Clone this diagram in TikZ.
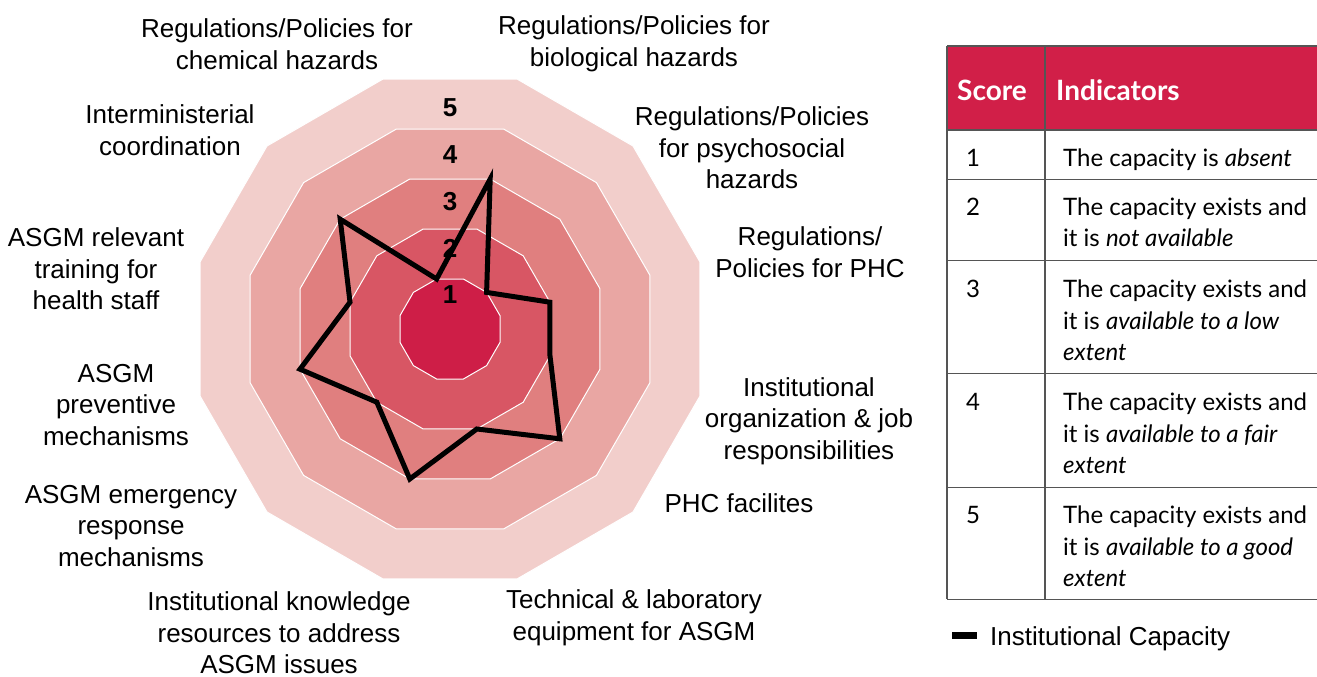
\documentclass[tikz,border=0pt]{standalone}
\usepackage{fontspec}
\setmainfont{Liberation Sans}
\newfontfamily\tabfont{Lato}
\definecolor{cA}{RGB}{206,30,71}
\definecolor{cB}{RGB}{216,86,100}
\definecolor{cC}{RGB}{224,127,127}
\definecolor{cD}{RGB}{233,166,163}
\definecolor{cE}{RGB}{242,206,203}
\definecolor{hdr}{RGB}{209,31,72}
\definecolor{rule}{RGB}{85,85,85}
\begin{document}
\begin{tikzpicture}[x=1pt,y=-1pt,
  lbl/.style={font=\fontsize{26}{31.6}\selectfont, align=center, inner sep=0pt},
  scalenum/.style={font=\fontsize{26}{30}\selectfont\bfseries, inner sep=0pt},
  dataline/.style={line width=5pt, line join=miter, draw=black},
  band/.style={draw=white, line width=1pt},
  tabrule/.style={draw=rule, line width=1.3pt},
  hcell/.style={font=\tabfont\bfseries\fontsize{28}{32}\selectfont, text=white, inner sep=0pt, anchor=base west},
  tcell/.style={font=\tabfont\fontsize{24}{30}\selectfont, inner sep=0pt, anchor=base west},
]
\useasboundingbox (0,0) rectangle (1317,677);
% bands
\foreach \L/\c in {5/cE,4/cD,3/cC,2/cB,1/cA}{
  \filldraw[band, fill=\c] ({450+51.76*\L*cos(15)},{329-51.76*\L*sin(15)})
    \foreach \k in {1,...,11}{ -- ({450+51.76*\L*cos(15+30*\k)},{329-51.76*\L*sin(15+30*\k)}) } -- cycle;
}
% scale numbers
\node[scalenum] (s5) at (450,108) {5};
\node[scalenum] (s4) at (450,155) {4};
\node[scalenum] (s3) at (450,202) {3};
\node[scalenum] (s2) at (450,248) {2};
\node[scalenum] (s1) at (450,295) {1};
% data
\foreach \v [count=\i] in {1,3,1,2,2,3,2,3,2,3,2,3}{
  \coordinate (d\i) at ({450+51.76*\v*cos(105-30*(\i-1))},{329-51.76*\v*sin(105-30*(\i-1))});
}
\draw[dataline] (d1) -- (d2) -- (d3) -- (d4) -- (d5) -- (d6) -- (d7) -- (d8) -- (d9) -- (d10) -- (d11) -- (d12) -- cycle;
% axis labels
\node[lbl] (lchem) at (277,44) {Regulations/Policies for\\chemical hazards};
\node[lbl] (lbio) at (634,44) {Regulations/Policies for\\biological hazards};
\node[lbl] (lpsy) at (752,148) {Regulations/Policies\\for psychosocial\\hazards};
\node[lbl] (lphc) at (810,252.5) {Regulations/\\Policies for PHC};
\node[lbl] (lorg) at (809,421) {Institutional\\organization \& job\\responsibilities};
\node[lbl] (lfac) at (739,503) {PHC facilites};
\node[lbl] (ltech) at (634,618) {Technical \& laboratory\\equipment for ASGM};
\node[lbl] (lknow) at (279,633) {Institutional knowledge\\resources to address\\ASGM issues};
\node[lbl] (lemer) at (131,526) {ASGM emergency\\response\\mechanisms};
\node[lbl] (lprev) at (116,405) {ASGM\\preventive\\mechanisms};
\node[lbl] (ltrain) at (96,269) {ASGM relevant\\training for\\health staff};
\node[lbl] (linter) at (170,130) {Interministerial\\coordination};
% table
\fill[hdr] (947,46) rectangle (1317,130);
\foreach \yy in {46,130,179.3,260.7,373.3,487.7,599.3}{
  \draw[tabrule] (947,\yy) -- (1317,\yy);
}
\draw[tabrule] (947,46) -- (947,599.3);
\draw[tabrule] (1045,46) -- (1045,599.3);
\node[hcell] (hs) at (957,100) {Score};
\node[hcell] (hi) at (1056,100) {Indicators};
\node[tcell] (n1) at (966,166) {1};
\node[tcell] (t1a) at (1063,166) {The capacity is \textit{absent}};
\node[tcell] (n2) at (966,215) {2};
\node[tcell] (t2a) at (1063,215) {The capacity exists and};
\node[tcell] (t2b) at (1063,246) {it is \textit{not available}};
\node[tcell] (n3) at (966,297) {3};
\node[tcell] (t3a) at (1063,297) {The capacity exists and};
\node[tcell] (t3b) at (1063,329) {it is \textit{available to a low}};
\node[tcell] (t3c) at (1063,360) {\textit{extent}};
\node[tcell] (n4) at (966,410) {4};
\node[tcell] (t4a) at (1063,410) {The capacity exists and};
\node[tcell] (t4b) at (1063,442) {it is \textit{available to a fair}};
\node[tcell] (t4c) at (1063,473) {\textit{extent}};
\node[tcell] (n5) at (966,523) {5};
\node[tcell] (t5a) at (1063,523) {The capacity exists and};
\node[tcell] (t5b) at (1063,555) {it is \textit{available to a good}};
\node[tcell] (t5c) at (1063,586) {\textit{extent}};
% legend
\fill[black] (952,632) rectangle (977,639);
\node[font=\fontsize{26}{30}\selectfont, inner sep=0pt, anchor=base west] (leg) at (990,645) {Institutional Capacity};
\end{tikzpicture}
\end{document}
